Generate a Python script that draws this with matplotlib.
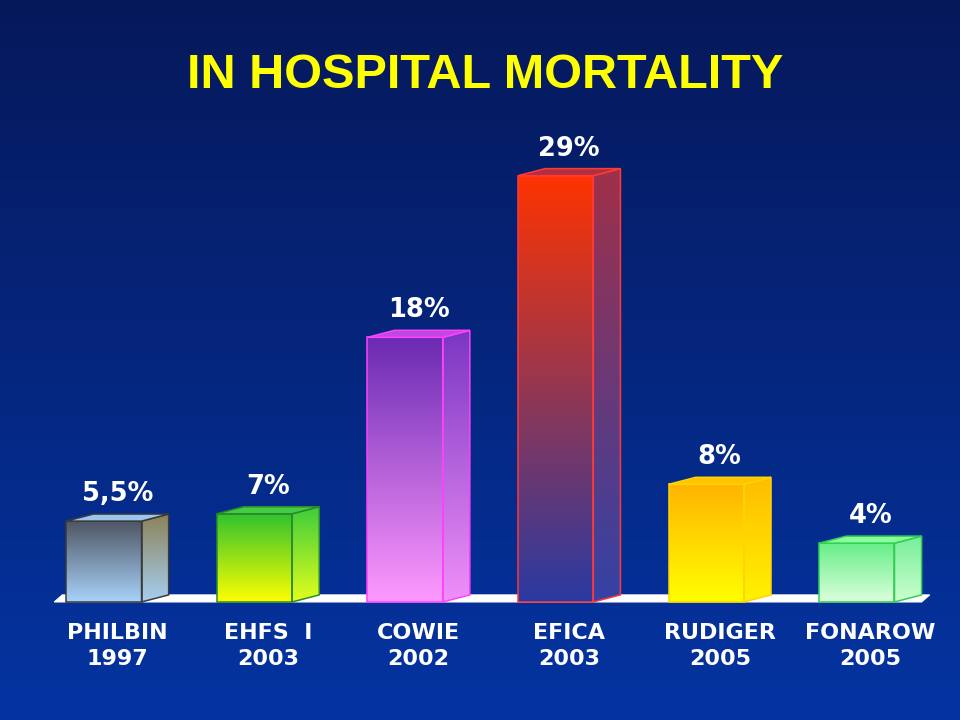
import numpy as np
import matplotlib
matplotlib.use("Agg")
import matplotlib.pyplot as plt
from matplotlib.colors import LinearSegmentedColormap
from matplotlib.patches import Polygon

studies = ["PHILBIN", "EHFS  I", "COWIE", "EFICA", "RUDIGER", "FONAROW"]
years = ["1997", "2003", "2002", "2003", "2005", "2005"]
heights = [5.5, 6.0, 18, 29, 8, 4]          # bar heights as drawn
value_labels = ["5,5%", "7%", "18%", "29%", "8%", "4%"]

# front top, front bottom, side top, side bottom, top face, edge
styles = [
    ("#4e5664", "#a9d2fa", "#8c8258", "#a6cff2", "#9cc6ee", "#3a3a3a"),
    ("#2fc22f", "#ffff00", "#3ccc3c", "#e4ff1c", "#44cc44", "#2a8a2a"),
    ("#6a2ab2", "#ff99ff", "#7a36c2", "#f090f8", "#c048e0", "#ff40ff"),
    ("#ff3300", "#2a3aa2", "#a03048", "#3442a6", "#b03040", "#ff3838"),
    ("#ffb400", "#ffff00", "#ffbc00", "#fff200", "#ffc400", "#ffd400"),
    ("#66ee88", "#ddffdd", "#77ee99", "#ccffd0", "#88ff99", "#33cc55"),
]

bar_w = 0.5
dx, dy = 0.18, 0.48      # 3d depth offset


def grad_face(ax, verts, c_top, c_bot, edge, z):
    poly = Polygon(verts, closed=True, facecolor="none", edgecolor=edge,
                   lw=1.1, zorder=z + 0.1)
    ax.add_patch(poly)
    xs = [v[0] for v in verts]
    ys = [v[1] for v in verts]
    cmap = LinearSegmentedColormap.from_list("g", [c_bot, c_top])
    grad = np.linspace(0, 1, 256).reshape(-1, 1)
    im = ax.imshow(grad, cmap=cmap, origin="lower", aspect="auto",
                   extent=(min(xs), max(xs), min(ys), max(ys)),
                   zorder=z, interpolation="bilinear")
    im.set_clip_path(poly)


fig = plt.figure(figsize=(9.6, 7.2), dpi=100)
ax = fig.add_axes([0, 0, 1, 1])
ax.axis("off")

xlim = (-0.69, 5.685)
ylim = (-8.03, 40.95)

# background
bg = LinearSegmentedColormap.from_list("bg", ["#0434a2", "#06185a"])
ax.imshow(np.linspace(0, 1, 256).reshape(-1, 1), cmap=bg, origin="lower",
          aspect="auto", extent=xlim + ylim, zorder=0)

# floor
n = len(heights)
fl, fr = -0.33, n - 1 + 0.43
ax.add_patch(Polygon([(fl, 0), (fr, 0), (fr + dx * 0.3, dy), (fl + dx * 0.3, dy)],
                     closed=True, facecolor="white", edgecolor="white",
                     lw=0.8, zorder=1))

for i, h in enumerate(heights):
    ft, fb, st, sb, tp, ec = styles[i]
    x0, x1 = i - bar_w / 2, i + bar_w / 2
    grad_face(ax, [(x0, 0), (x1, 0), (x1, h), (x0, h)], ft, fb, ec, 3)
    grad_face(ax, [(x1, 0), (x1 + dx, dy), (x1 + dx, h + dy), (x1, h)], st, sb, ec, 3)
    ax.add_patch(Polygon([(x0, h), (x1, h), (x1 + dx, h + dy), (x0 + dx, h + dy)],
                         closed=True, facecolor=tp, edgecolor=ec, lw=1.1, zorder=3.2))
    ax.text(i + dx / 2, h + dy + 1.35, value_labels[i], color="white",
            fontsize=18.5, fontweight="bold", ha="center", va="center", zorder=5)
    ax.text(i + dx / 2, -3.0, studies[i] + "\n" + years[i], color="white",
            fontsize=16, fontweight="bold", ha="center", va="center",
            multialignment="center", linespacing=1.4, zorder=5)

ax.set_xlim(xlim)
ax.set_ylim(ylim)

fig.text(485 / 960, 1 - 76 / 720, "IN HOSPITAL MORTALITY", color="#ffff00",
         fontsize=35, fontweight="bold", ha="center", va="center",
         family="Liberation Sans")

fig.savefig("out.png", dpi=100)
